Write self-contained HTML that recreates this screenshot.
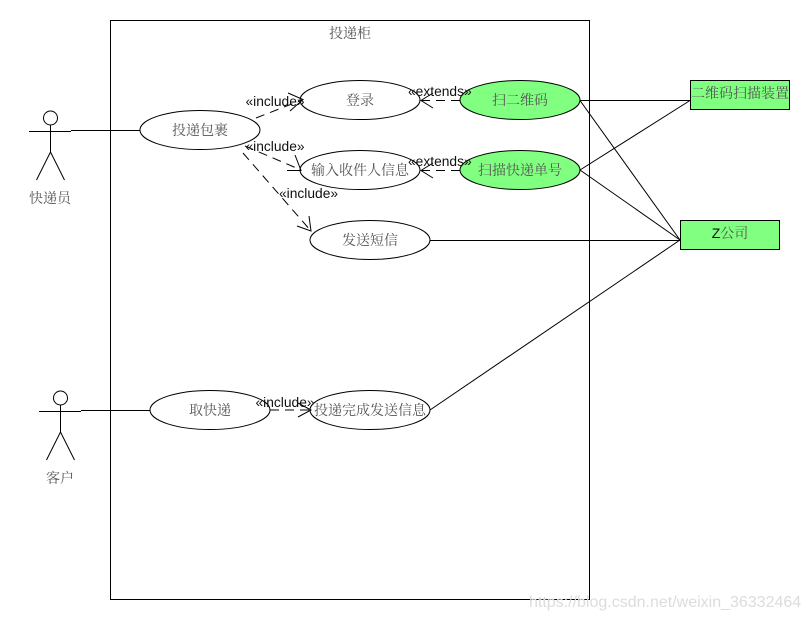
<!DOCTYPE html>
<html><head><meta charset="utf-8"><style>
html,body{margin:0;padding:0;background:#fff}
svg{display:block}
.c{font-family:"Liberation Serif","Noto Serif CJK SC",serif;font-size:14px;fill:#555;text-anchor:middle}
.l{font-family:"Liberation Sans",sans-serif;font-size:13.8px;fill:#111}
</style></head><body>
<svg width="810" height="620" viewBox="0 0 810 620" xmlns="http://www.w3.org/2000/svg">
<rect x="110.500" y="20.500" width="479" height="579" fill="#fff" stroke="#000"/>
<g stroke="#000" fill="none" stroke-width="1">
<path d="M50.500 125V152M29 131.500H71M50.500 152L36.500 180M50.500 152L64.500 180M71 130.500H140"/>
<circle cx="50.500" cy="118" r="7"/>
<path d="M60.500 405V432M39 411.500H81M60.500 432L46.500 460M60.500 432L74.500 460M81 410.500H150"/>
<circle cx="60.500" cy="398" r="7"/>
<path d="M580 100.500H690M580 100.500L680 240M580 170L690 100.500M580 170L680 240M430 240.500H680M430 410L680 240"/>
</g>
<g stroke="#000" fill="#fff">
<ellipse cx="200" cy="130" rx="60" ry="19.500"/>
<ellipse cx="360" cy="100" rx="60" ry="19.500"/>
<ellipse cx="360" cy="170" rx="60" ry="19.500"/>
<ellipse cx="370" cy="240" rx="60" ry="19.500"/>
<ellipse cx="210" cy="410" rx="60" ry="19.500"/>
<ellipse cx="370" cy="410" rx="60" ry="19.500"/>
<ellipse cx="520" cy="100" rx="60" ry="19.500" fill="#80ff80"/>
<ellipse cx="520" cy="170" rx="60" ry="19.500" fill="#80ff80"/>
<rect x="690.500" y="80.500" width="99" height="29" fill="#80ff80"/>
<rect x="680.500" y="220.500" width="99" height="29" fill="#80ff80"/>
</g>
<g stroke="#000" fill="none" stroke-width="1">
<path d="M256 118L302 100M245 146L301 170M243 153L311 231M270 410H311M460 100.500H422M460 170.500H422" stroke-dasharray="9 6"/>
<path d="M288 93L303 99.500L290 111M287 170.500H301L295 155M297 226L311 231L309 216M298 403L311 410L298 417M433 93L421 100.500L433 108M433 163L421 170.500L433 178"/>
</g>
<text class="c" x="350" y="38">投递柜</text>
<text class="c" x="200" y="135">投递包裹</text>
<text class="c" x="360" y="105">登录</text>
<text class="c" x="360" y="175">输入收件人信息</text>
<text class="c" x="370" y="245">发送短信</text>
<text class="c" x="210" y="415">取快递</text>
<text class="c" x="370" y="415">投递完成发送信息</text>
<text class="c" x="520" y="105">扫二维码</text>
<text class="c" x="520" y="175">扫描快递单号</text>
<text class="c" x="740" y="98">二维码扫描装置</text>
<text class="c" x="730" y="238"><tspan font-family="Liberation Sans" fill="#111">Z</tspan>公司</text>
<text class="c" x="50" y="203">快递员</text>
<text class="c" x="60" y="483">客户</text>
<text class="l" x="245.500" y="106">«include»</text>
<text class="l" x="245.500" y="151">«include»</text>
<text class="l" x="279" y="198">«include»</text>
<text class="l" x="255.500" y="407">«include»</text>
<text class="l" x="408" y="96">«extends»</text>
<text class="l" x="408" y="166">«extends»</text>
<text x="529" y="607" font-family="Liberation Sans" font-size="16" fill="#dcdcdc">https://blog.csdn.net/weixin_36332464</text>
</svg>
</body></html>
